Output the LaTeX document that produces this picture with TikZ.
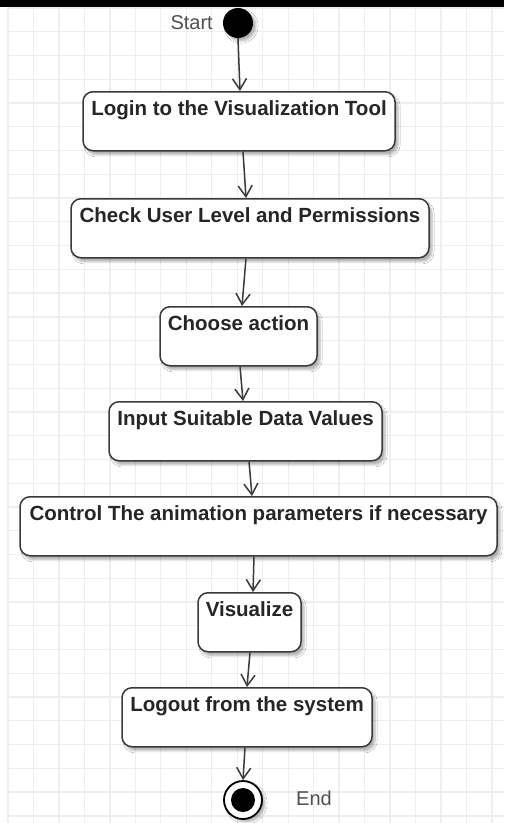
\documentclass[tikz,border=0pt]{standalone}
\usepackage{fontspec}
\setmainfont{Liberation Sans}
\usetikzlibrary{arrows.meta,shadows.blur}
\definecolor{gridline}{HTML}{EEEEEE}
\definecolor{stroke}{HTML}{3A3A3A}
\definecolor{labelgray}{HTML}{505050}
\begin{document}
\begin{tikzpicture}[x=1pt,y=-1pt,
  act/.style={draw=stroke, line width=1.5pt, fill=white, rounded corners=10pt,
    inner sep=0pt, anchor=north, text height=24pt, text depth=35pt,
    font=\bfseries\fontsize{20.5}{24}\selectfont, text=black!85,
    blur shadow={shadow xshift=3pt, shadow yshift=-4pt, shadow blur steps=6, shadow opacity=30}},
  flow/.style={draw=stroke, line width=1.5pt,
    -{Straight Barb[length=11pt,width=14pt,line width=1.5pt]}},
  caption/.style={font=\fontsize{20}{24}\selectfont, text=labelgray, inner sep=0pt}]

  % page, background grid and the dark strip along the top
  \useasboundingbox (0,0) rectangle (504,823);
  \fill[white] (0,0) rectangle (504,823);
  \foreach \i in {0,...,19}
    \draw[gridline, line width=1.3pt] ({8+25.47*\i},8) -- ({8+25.47*\i},823);
  \foreach \j in {0,...,34}
    \draw[gridline, line width=1.3pt] (8,{8+23.76*\j}) -- (504,{8+23.76*\j});
  \fill[black] (0,0) rectangle (504,7);

  % initial state
  \node[circle, fill=black, minimum size=30pt, inner sep=0pt,
    blur shadow={shadow xshift=3pt, shadow yshift=-3pt, shadow blur steps=5, shadow opacity=30}]
    (start) at (238,23) {};
  \node[caption, anchor=east] (startlbl) at (213,23) {Start};

  % activities
  \node[act, minimum width=312pt] (b1) at (239,91)   {Login to the Visualization Tool};
  \node[act, minimum width=358pt] (b2) at (250,198)  {Check User Level and Permissions};
  \node[act, minimum width=157pt] (b3) at (238.5,306) {Choose action};
  \node[act, minimum width=273pt] (b4) at (245.5,401) {Input Suitable Data Values};
  \node[act, minimum width=477pt] (b5) at (258.5,496) {Control The animation parameters if necessary};
  \node[act, minimum width=103pt] (b6) at (249.5,592) {Visualize};
  \node[act, minimum width=250pt] (b7) at (247,687)  {Logout from the system};

  % final state
  \node[circle, draw=black, line width=1.8pt, fill=white, minimum size=38pt, inner sep=0pt,
    blur shadow={shadow xshift=3pt, shadow yshift=-3pt, shadow blur steps=5, shadow opacity=30}]
    (final) at (243,800) {};
  \node[circle, fill=black, minimum size=24pt, inner sep=0pt] (finaldot) at (final.center) {};
  \node[caption, anchor=west] (endlbl) at (296,798) {End};

  % control flow
  \draw[flow] (start.south) -- ([xshift=1pt]b1.north);
  \draw[flow] ([xshift=4pt]b1.south) -- ([xshift=-4pt]b2.north);
  \draw[flow] ([xshift=-4pt]b2.south) -- ([xshift=3.5pt]b3.north);
  \draw[flow] ([xshift=1.5pt]b3.south) -- ([xshift=-2.5pt]b4.north);
  \draw[flow] ([xshift=3.5pt]b4.south) -- ([xshift=-6.5pt]b5.north);
  \draw[flow] ([xshift=-4.5pt]b5.south) -- ([xshift=3.5pt]b6.north);
  \draw[flow] ([xshift=0.5pt]b6.south) -- (b7.north);
  \draw[flow] ([xshift=-2pt]b7.south) -- (final.north);
\end{tikzpicture}
\end{document}
